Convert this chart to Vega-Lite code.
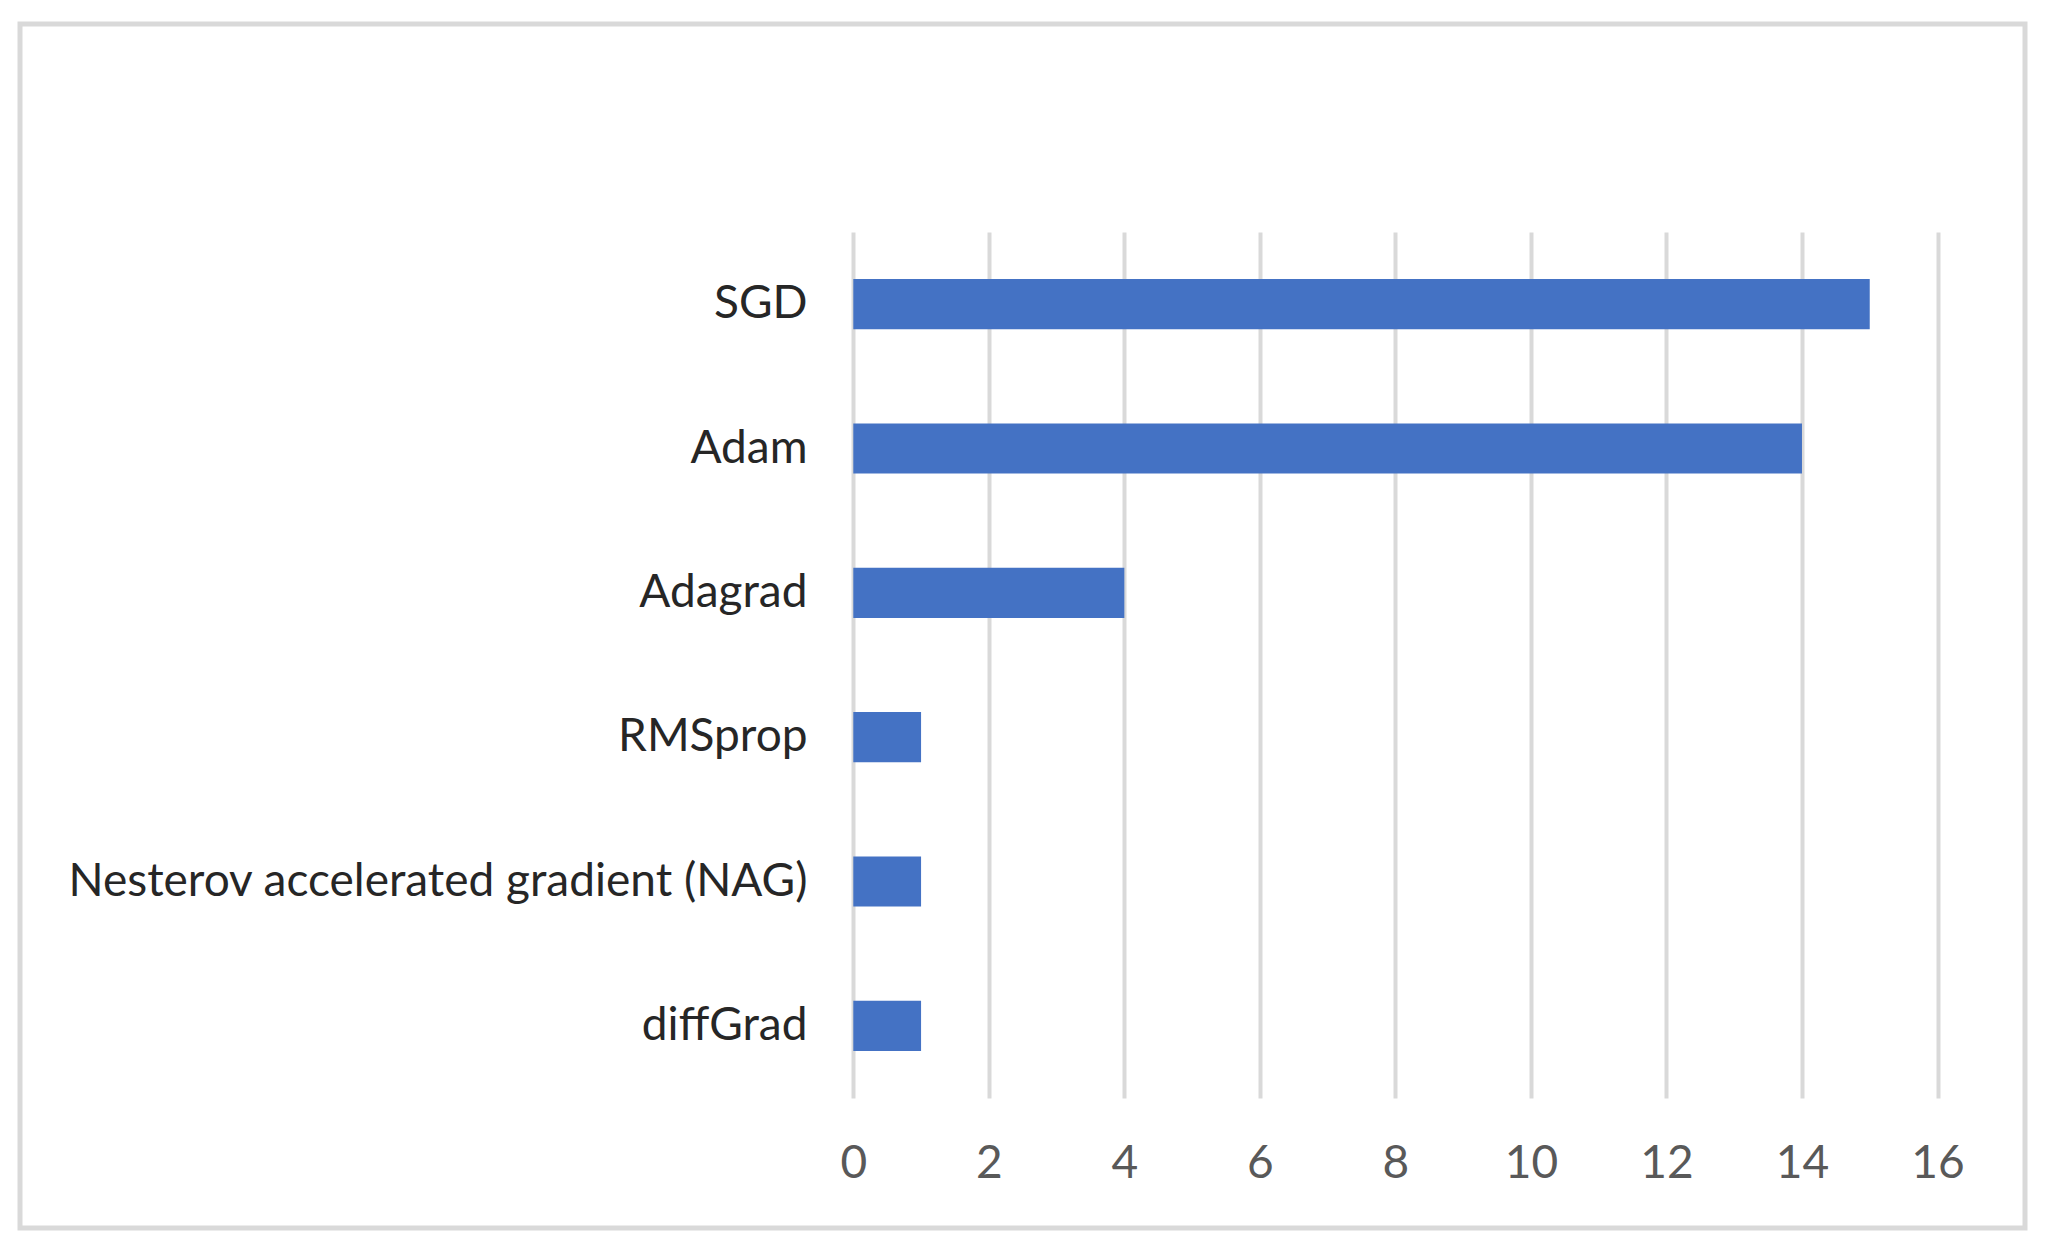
{
  "$schema": "https://vega.github.io/schema/vega-lite/v6.json",
  "width": 2005,
  "height": 1204,
  "autosize": {"type": "none"},
  "padding": {"left": 20, "top": 24, "right": 28, "bottom": 23},
  "background": "white",
  "config": {
    "view": {"stroke": "#d9d9d9", "strokeWidth": 5, "fill": "white"},
    "font": "Lato"
  },
  "data": {
    "values": [
      {"optimizer": "SGD", "count": 15},
      {"optimizer": "Adam", "count": 14},
      {"optimizer": "Adagrad", "count": 4},
      {"optimizer": "RMSprop", "count": 1},
      {"optimizer": "Nesterov accelerated gradient (NAG)", "count": 1},
      {"optimizer": "diffGrad", "count": 1}
    ]
  },
  "mark": {"type": "bar", "color": "#4472c4"},
  "encoding": {
    "y": {
      "field": "optimizer",
      "type": "nominal",
      "sort": null,
      "scale": {"range": [208, 1074], "paddingInner": 0.653, "paddingOuter": 0.3265},
      "axis": {
        "title": null,
        "orient": "left",
        "offset": -787,
        "domain": false,
        "ticks": false,
        "tickSize": 0,
        "labelPadding": 0,
        "labelFontSize": 46,
        "labelLimit": 1000,
        "labelColor": "#262626",
        "labelFont": "Lato",
        "grid": false
      }
    },
    "x": {
      "field": "count",
      "type": "quantitative",
      "scale": {"domain": [0, 16], "range": [833.3, 1917.5], "nice": false, "zero": true},
      "axis": {
        "title": null,
        "orient": "top",
        "offset": -1153,
        "values": [0, 2, 4, 6, 8, 10, 12, 14, 16],
        "domain": false,
        "ticks": false,
        "tickSize": 0,
        "labelPadding": 0,
        "labelBaseline": "alphabetic",
        "labelFontSize": 46,
        "labelColor": "#595959",
        "labelFont": "Lato",
        "labelFlush": false,
        "labelOverlap": false,
        "grid": true,
        "gridColor": "#d9d9d9",
        "gridWidth": 4
      }
    }
  }
}
